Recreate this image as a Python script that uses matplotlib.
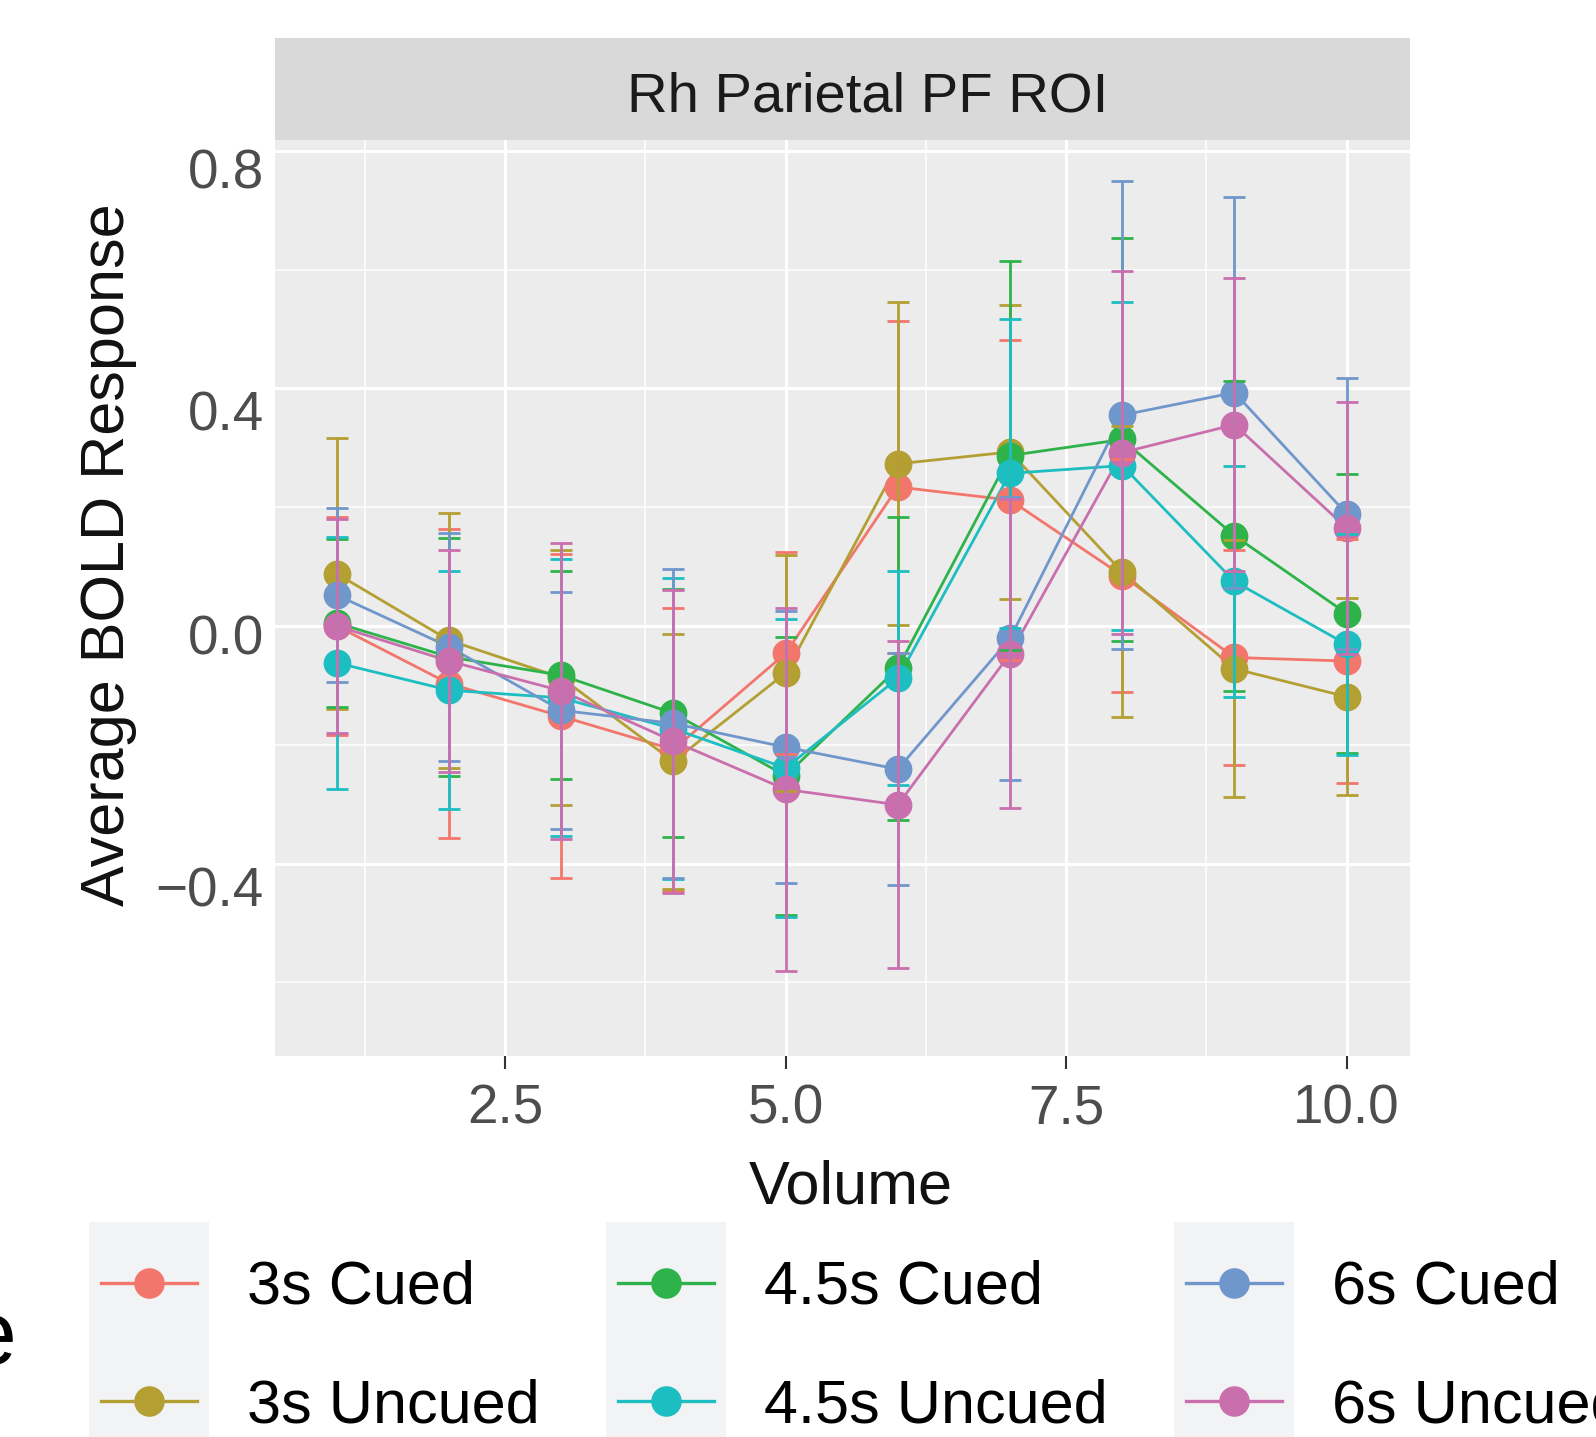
import matplotlib
matplotlib.use('Agg')
import matplotlib.pyplot as plt
from matplotlib.lines import Line2D
from matplotlib.patches import Rectangle
from matplotlib.transforms import ScaledTranslation

plt.rcParams['font.family'] = ['Liberation Sans', 'DejaVu Sans']

# ---------------- data ----------------
volume = [1, 2, 3, 4, 5, 6, 7, 8, 9, 10]
conditions = ['3s Cued', '3s Uncued', '4.5s Cued', '4.5s Uncued', '6s Cued', '6s Uncued']
colors = ['#F3766D', '#B49F33', '#2EB34B', '#1DBEC2', '#7097CC', '#CA6FAE']

mean_3s_cued = [0.000, -0.097, -0.152, -0.208, -0.046, 0.234, 0.212, 0.085, -0.053, -0.059]
err_3s_cued = [0.183, 0.260, 0.273, 0.238, 0.170, 0.280, 0.269, 0.196, 0.181, 0.206]

mean_3s_uncued = [0.088, -0.024, -0.087, -0.228, -0.079, 0.273, 0.293, 0.091, -0.072, -0.119]
err_3s_uncued = [0.228, 0.215, 0.215, 0.214, 0.198, 0.272, 0.247, 0.245, 0.216, 0.166]

mean_45s_cued = [0.005, -0.052, -0.083, -0.147, -0.252, -0.071, 0.287, 0.314, 0.152, 0.021]
err_45s_cued = [0.141, 0.200, 0.175, 0.209, 0.234, 0.255, 0.327, 0.339, 0.261, 0.235]

mean_45s_uncued = [-0.062, -0.108, -0.121, -0.173, -0.239, -0.088, 0.257, 0.270, 0.075, -0.031]
err_45s_uncued = [0.212, 0.200, 0.233, 0.253, 0.251, 0.180, 0.260, 0.276, 0.194, 0.186]

mean_6s_cued = [0.052, -0.035, -0.142, -0.164, -0.204, -0.241, -0.021, 0.355, 0.393, 0.189]
err_6s_cued = [0.147, 0.192, 0.200, 0.260, 0.229, 0.195, 0.239, 0.394, 0.329, 0.228]

mean_6s_uncued = [0.000, -0.059, -0.109, -0.194, -0.275, -0.301, -0.047, 0.292, 0.339, 0.165]
err_6s_uncued = [0.180, 0.187, 0.249, 0.255, 0.306, 0.275, 0.260, 0.306, 0.247, 0.212]

means = [mean_3s_cued, mean_3s_uncued, mean_45s_cued, mean_45s_uncued, mean_6s_cued, mean_6s_uncued]
errs = [err_3s_cued, err_3s_uncued, err_45s_cued, err_45s_uncued, err_6s_cued, err_6s_uncued]

x_ticks = [2.5, 5.0, 7.5, 10.0]
x_ticklabels = ['2.5', '5.0', '7.5', '10.0']
y_ticks = [-0.4, 0.0, 0.4, 0.8]
y_ticklabels = ['\u22120.4', '0.0', '0.4', '0.8']
x_minor = [1.25, 3.75, 6.25, 8.75]
y_minor = [-0.6, -0.2, 0.2, 0.6]

strip_title = 'Rh Parietal PF ROI'
x_label = 'Volume'
y_label = 'Average BOLD Response'
legend_title = 'Type'

# ---------------- layout ----------------
W, H = 1596, 1437
fig = plt.figure(figsize=(W / 100, H / 100), dpi=100)
fig.patch.set_facecolor('white')

pl, pr, pt, pb = 274.8, 1409.7, 139.5, 1055.5
ax = fig.add_axes([pl / W, 1 - pb / H, (pr - pl) / W, (pb - pt) / H])
ax.set_facecolor('#EBECEB')
for s in ax.spines.values():
    s.set_visible(False)
ax.set_xlim(0.4474, 10.562)
ax.set_ylim(-0.723, 0.819)

ax.set_xticks(x_ticks)
ax.set_xticklabels(x_ticklabels)
ax.set_yticks(y_ticks)
ax.set_yticklabels(y_ticklabels)
ax.set_xticks(x_minor, minor=True)
ax.set_yticks(y_minor, minor=True)
ax.grid(which='major', color='white', linewidth=2.2)
ax.grid(which='minor', color='white', linewidth=1.1)
ax.set_axisbelow(True)
ax.tick_params(axis='x', which='major', length=9.4, width=1.5, color='#333333',
               labelsize=39.5, labelcolor='#4D4D4D', pad=11)
ax.tick_params(axis='y', which='major', length=0, labelsize=39.5,
               labelcolor='#4D4D4D', pad=7.8)
ax.tick_params(which='minor', length=0)

# small vertical offsets of the y tick labels as seen in the reference (pixels)
y_label_shift = [23, 8, 22, 18]
for lab, dy in zip(ax.get_yticklabels(), y_label_shift):
    lab.set_transform(lab.get_transform() + ScaledTranslation(0, -dy / 100, fig.dpi_scale_trans))

for m, c in zip(means, colors):
    ax.plot(volume, m, color=c, linewidth=2.0, zorder=2)
for m, c in zip(means, colors):
    ax.plot(volume, m, linestyle='none', marker='o', markersize=19,
            markerfacecolor=c, markeredgecolor=c, zorder=3)
for m, e, c in zip(means, errs, colors):
    ax.errorbar(volume, m, yerr=e, fmt='none', ecolor=c, elinewidth=2.0,
                capsize=8.2, capthick=2.0, zorder=4)

# strip
fig.add_artist(Rectangle((pl / W, 1 - pt / H), (pr - pl) / W, (pt - 37.7) / H,
                         transform=fig.transFigure, facecolor='#D9D9D9',
                         edgecolor='none', zorder=1))
fig.text(868 / W, 1 - 111.7 / H, strip_title, ha='center', va='baseline',
         fontsize=40.5, color='#1A1A1A')

# axis titles
fig.text(851 / W, 1 - 1204 / H, x_label, ha='center', va='baseline',
         fontsize=44, color='#111111')
fig.text(124 / W, 1 - 555 / H, y_label, ha='center', va='baseline', rotation=90,
         rotation_mode='anchor', fontsize=44, color='#111111')

# legend
handles = [Line2D([], [], color=c, linewidth=2.4, marker='o', markersize=21,
                  markerfacecolor=c, markeredgecolor=c) for c in colors]
leg = fig.legend(handles, conditions, ncol=3, loc='upper left',
                 bbox_to_anchor=(101 / W, 1 - 1260 / H), frameon=False,
                 fontsize=44, handlelength=1.57, handletextpad=0.82,
                 columnspacing=1.28, labelspacing=1.0, borderpad=0,
                 borderaxespad=0)
leg.set_zorder(5)
for t in leg.get_texts():
    t.set_color('black')

fig.canvas.draw()
renderer = fig.canvas.get_renderer()
seen = []
for h in leg.legend_handles:
    bb = h.get_window_extent(renderer)
    cx = (bb.x0 + bb.x1) / 2
    if any(abs(cx - s) < 5 for s in seen):
        continue
    seen.append(cx)
    fig.add_artist(Rectangle(((cx - 60) / W, 0), 120 / W, (H - 1222) / H,
                             transform=fig.transFigure, facecolor='#F2F3F4',
                             edgecolor='none', zorder=0.5))

fig.text(17 / W, 1 - 1364 / H, legend_title, ha='right', va='baseline',
         fontsize=65, color='black')

fig.savefig('out.png', dpi=100)
